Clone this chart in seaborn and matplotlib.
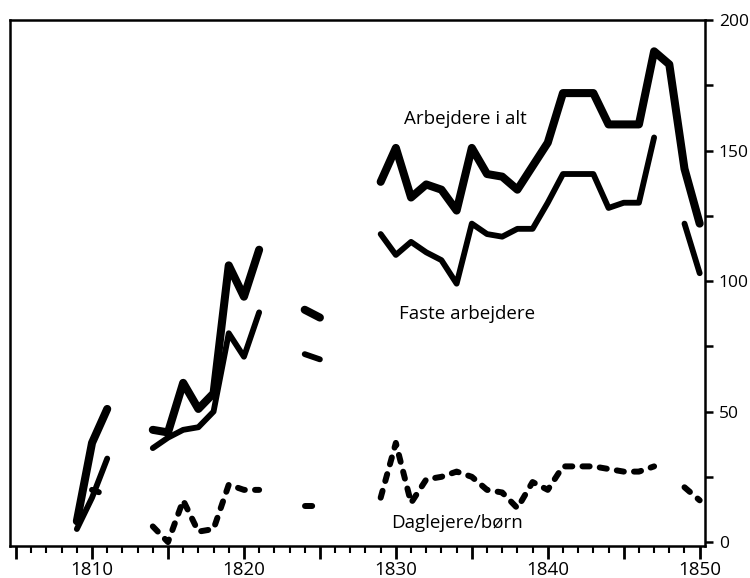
import matplotlib
matplotlib.use('Agg')
import matplotlib.pyplot as plt
from matplotlib.ticker import FixedLocator, FuncFormatter, MultipleLocator
import seaborn as sns
import pandas as pd
import numpy as np

nan = np.nan

years = list(range(1809, 1851))

arbejdere_i_alt = [8, 38, 51, nan, nan,
                   43, 42, 61, 51, 57, 106, 94, 112, nan, nan,
                   89, 86, nan, nan, nan,
                   138, 151, 132, 137, 135, 127, 151, 141, 140, 135, 144,
                   153, 172, 172, 172, 160, 160, 160, 188, 183, 143, 122]

faste_arbejdere = [5, 17, 32, nan, nan,
                   36, 40, 43, 44, 50, 80, 71, 88, nan, nan,
                   72, 70, nan, nan, nan,
                   118, 110, 115, 111, 108, 99, 122, 118, 117, 120, 120,
                   130, 141, 141, 141, 128, 130, 130, 155, nan, 122, 103]

daglejere = [nan, 20, 18, nan, nan,
             6, 0, 16, 4, 5, 22, 20, 20, nan, nan,
             14, 14, nan, nan, nan,
             17, 38, 15, 24, 25, 27, 25, 20, 19, 13, 23,
             20, 29, 29, 29, 28, 27, 27, 29, nan, 21, 16]


# Function to split a series into unbroken pieces
def to_segments(values):
    df = pd.DataFrame({'year': years, 'value': values})
    df['segment'] = df['value'].isna().cumsum()
    return df.dropna()


sns.set_style('white')
plt.rcParams['font.family'] = ['Open Sans', 'DejaVu Sans']
plt.rcParams['text.color'] = 'black'
plt.rcParams['xtick.color'] = 'black'
plt.rcParams['ytick.color'] = 'black'

fig = plt.figure(figsize=(7.5, 5.78), dpi=100)
ax = fig.add_axes([10 / 750, 1 - 546 / 578, 695 / 750, 526 / 578])

sns.lineplot(data=to_segments(arbejdere_i_alt), x='year', y='value', units='segment',
             estimator=None, color='black', lw=5.8, solid_capstyle='round', ax=ax)
sns.lineplot(data=to_segments(faste_arbejdere), x='year', y='value', units='segment',
             estimator=None, color='black', lw=4.2, solid_capstyle='round', ax=ax)
sns.lineplot(data=to_segments(daglejere), x='year', y='value', units='segment',
             estimator=None, color='black', lw=4.3, linestyle=(0, (1.2, 1.7)),
             dash_capstyle='round', ax=ax)

# Labels on the lines
ax.text(1834.6, 162, 'Arbejdere i alt', ha='center', va='center', fontsize=13.5, color='black')
ax.text(1834.7, 87.5, 'Faste arbejdere', ha='center', va='center', fontsize=13.5, color='black')
ax.text(1834.0, 7.5, 'Daglejere/børn', ha='center', va='center', fontsize=13.5, color='black')

ax.set_xlim(1804.6, 1850.35)
ax.set_ylim(-1.5, 200)
ax.set_xlabel('')
ax.set_ylabel('')

# x axis: long ticks every 5 years, labels every 10
ax.xaxis.set_major_locator(FixedLocator(list(range(1805, 1851, 5))))
ax.xaxis.set_major_formatter(FuncFormatter(lambda v, p: f'{int(v)}' if int(v) % 10 == 0 else ''))
ax.xaxis.set_minor_locator(MultipleLocator(1))

# y axis on the right
ax.yaxis.tick_right()
ax.yaxis.set_major_locator(MultipleLocator(50))
ax.yaxis.set_minor_locator(MultipleLocator(25))

ax.tick_params(axis='x', which='major', direction='out', length=9, width=2, labelsize=13.5,
               pad=2, bottom=True)
ax.tick_params(axis='x', which='minor', direction='out', length=5, width=1.5, bottom=True)
ax.tick_params(axis='y', which='major', direction='out', length=6, width=1.8, labelsize=12.5,
               pad=4, right=True, left=False)
ax.tick_params(axis='y', which='minor', direction='out', length=6, width=1.8, right=True, left=False)

for s in ax.spines.values():
    s.set_visible(True)
    s.set_color('black')
    s.set_linewidth(1.8)

plt.savefig('out.png', dpi=100)
